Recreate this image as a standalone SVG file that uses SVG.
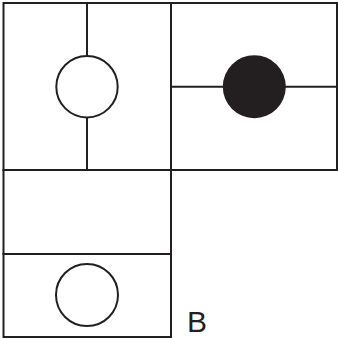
<svg xmlns="http://www.w3.org/2000/svg" width="338" height="339" viewBox="0 0 338 339">
<style>
.l{stroke:#231f20;stroke-width:2;fill:none}
.c{stroke:#231f20;stroke-width:2;fill:#fff}
.f{fill:#231f20}
.t{font-family:"Liberation Sans",Arial,sans-serif;font-size:30px;fill:#231f20}
</style>
<rect width="338" height="339" fill="#fff"/>
<g id="cell-top-left">
<rect class="l" x="3.5" y="3" width="167.5" height="167"/>
<line class="l" x1="87" y1="3" x2="87" y2="170"/>
<circle class="c" cx="87" cy="86.7" r="30.7"/>
</g>
<g id="cell-top-right">
<rect class="l" x="171" y="3" width="166" height="167"/>
<line class="l" x1="171" y1="86.7" x2="337" y2="86.7"/>
<circle class="f" cx="254.3" cy="86.7" r="31.5"/>
</g>
<g id="cell-middle">
<rect class="l" x="3.5" y="170" width="167.5" height="84"/>
</g>
<g id="cell-bottom">
<rect class="l" x="3.5" y="254" width="167.5" height="83"/>
<circle class="c" cx="87" cy="295" r="31"/>
</g>
<text class="t" x="187" y="332">B</text>
</svg>
